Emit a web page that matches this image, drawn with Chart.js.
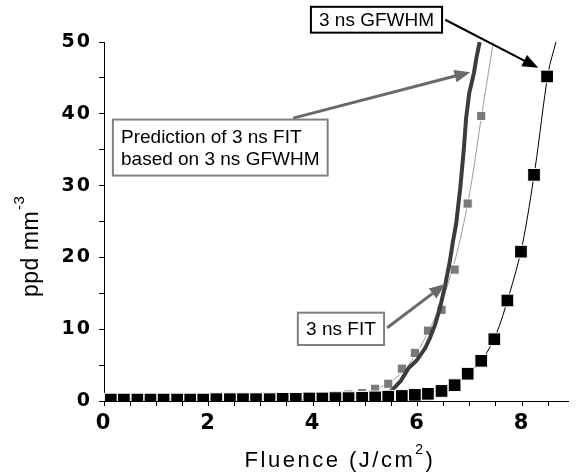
<!DOCTYPE html>
<html>
<head>
<meta charset="utf-8">
<script src="https://cdn.jsdelivr.net/npm/chart.js@4"></script>
<style>
  html, body { margin: 0; padding: 0; background: #fff; }
</style>
</head>
<body>
<canvas id="myChart" width="578" height="476"></canvas>
<script>
// fluence values shared by both measured series (J/cm2)
const fluence = [0.13, 0.38, 0.64, 0.89, 1.14, 1.40, 1.65, 1.90, 2.15, 2.41, 2.66, 2.91, 3.17, 3.42, 3.67, 3.93, 4.18,
    4.43, 4.68, 4.94, 5.19, 5.44, 5.70, 5.95, 6.20, 6.46, 6.71, 6.96, 7.22, 7.47, 7.72, 7.98, 8.23, 8.48];

// 3 ns GFWHM (black squares)
const gfwhm = [0.2, 0.2, 0.2, 0.2, 0.2, 0.2, 0.2, 0.2, 0.25, 0.25, 0.25, 0.25, 0.25, 0.3, 0.3, 0.35, 0.35,
    0.4, 0.4, 0.45, 0.5, 0.6, 0.7, 0.85, 1.0, 1.4, 2.2, 3.8, 5.6, 8.6, 14.0, 20.8, 31.5, 45.2];

// 3 ns FIT (grey squares)
const fit = [0.3, 0.3, 0.3, 0.3, 0.3, 0.3, 0.3, 0.3, 0.3, 0.3, 0.3, 0.3, 0.3, 0.4, 0.45, 0.5, 0.6,
    0.75, 0.9, 1.1, 1.7, 2.4, 4.5, 6.7, 9.8, 12.7, 18.3, 27.5, 39.7];

// thin fitted curves
const gfwhmCurveX = [0, 1, 2, 3, 4, 5, 5.5, 6, 6.5, 6.75, 7, 7.25, 7.5, 7.75, 8, 8.25, 8.5, 8.65];
const gfwhmCurveY = [0.2, 0.2, 0.25, 0.3, 0.35, 0.5, 0.7, 0.95, 1.6, 2.4, 4.0, 5.9, 9.2, 14.7, 21.5, 32.4, 45.7, 50];
const fitCurveX = [0, 1, 2, 3, 4, 4.5, 5, 5.25, 5.5, 5.75, 6, 6.25, 6.5, 6.75, 7, 7.2, 7.45];
const fitCurveY = [0.3, 0.3, 0.3, 0.35, 0.55, 0.8, 1.3, 1.8, 2.8, 4.3, 6.9, 10.3, 14.5, 20.5, 29.0, 38.5, 50];

// prediction of 3 ns FIT (thick dark line)
const predX = [0, 1, 2, 3, 4, 5, 5.3, 5.5, 5.68, 5.83, 5.98, 6.15, 6.24, 6.34, 6.43, 6.52, 6.62, 6.68, 6.74, 6.82,
    6.89, 6.93, 6.99, 7.08, 7.13, 7.19];
const predY = [0.2, 0.2, 0.2, 0.25, 0.35, 0.6, 0.9, 1.4, 2.8, 4.6, 5.6, 7.4, 8.8, 10.7, 13.0, 15.8, 19.5, 22.3, 24.7, 29.8,
    35.4, 39.4, 42.9, 45.7, 47.9, 50];

const xTicks = [0, 0.5, 1, 1.5, 2, 2.5, 3, 3.5, 4, 4.5, 5, 5.5, 6, 6.5, 7, 7.5, 8, 8.5];
const yTicks = [0, 5, 10, 15, 20, 25, 30, 35, 40, 45, 50];

const FONT = '"Liberation Sans", Arial, sans-serif';

function pairs(xs, ys) {
    return ys.map((y, i) => ({ x: xs[i], y: y }));
}

function drawArrow(ctx, x1, y1, x2, y2, color, width, head) {
    let ang = Math.atan2(y2 - y1, x2 - x1);
    ctx.strokeStyle = color;
    ctx.fillStyle = color;
    ctx.lineWidth = width;
    ctx.beginPath();
    ctx.moveTo(x1, y1);
    ctx.lineTo(x2 - Math.cos(ang) * head * 0.8, y2 - Math.sin(ang) * head * 0.8);
    ctx.stroke();
    ctx.beginPath();
    ctx.moveTo(x2, y2);
    ctx.lineTo(x2 - head * Math.cos(ang - 0.38), y2 - head * Math.sin(ang - 0.38));
    ctx.lineTo(x2 - head * Math.cos(ang + 0.38), y2 - head * Math.sin(ang + 0.38));
    ctx.closePath();
    ctx.fill();
}

// boxes and arrows, placed in data units
const notes = [
    { box: [3.96, 54.9, 6.47, 51.3], lines: ['3 ns GFWHM'], border: '#000', arrow: [6.53, 53.1, 8.31, 46.4], arrowColor: '#000', arrowWidth: 2 },
    { box: [0.17, 39.2, 4.28, 31.4], lines: ['Prediction of 3 ns FIT', 'based on 3 ns GFWHM'], border: '#808080', arrow: [3.62, 39.4, 7.01, 45.8], arrowColor: '#6a6a6a', arrowWidth: 3 },
    { box: [3.71, 12.3, 5.36, 7.8], lines: ['3 ns FIT'], border: '#808080', arrow: [5.42, 10.2, 6.53, 16.3], arrowColor: '#6a6a6a', arrowWidth: 3 }
];

const notesPlugin = {
    id: 'notes',
    afterDatasetsDraw(chart) {
        let ctx = chart.ctx;
        let xs = chart.scales.x;
        let ys = chart.scales.y;
        ctx.save();
        ctx.letterSpacing = '0px';
        notes.forEach((n) => {
            let a = n.arrow;
            drawArrow(ctx, xs.getPixelForValue(a[0]), ys.getPixelForValue(a[1]),
                xs.getPixelForValue(a[2]), ys.getPixelForValue(a[3]), n.arrowColor, n.arrowWidth, 17);
            let l = xs.getPixelForValue(n.box[0]);
            let t = ys.getPixelForValue(n.box[1]);
            let r = xs.getPixelForValue(n.box[2]);
            let b = ys.getPixelForValue(n.box[3]);
            ctx.fillStyle = '#fff';
            ctx.fillRect(l, t, r - l, b - t);
            ctx.strokeStyle = n.border;
            ctx.lineWidth = 2;
            ctx.strokeRect(l, t, r - l, b - t);
            ctx.fillStyle = '#000';
            ctx.font = '19px ' + FONT;
            ctx.textBaseline = 'middle';
            let lh = 22;
            let cy = (t + b) / 2 - (n.lines.length - 1) * lh / 2;
            // multi-line notes are left aligned, single ones centred
            let widest = Math.max(...n.lines.map((txt) => ctx.measureText(txt).width));
            let tx = (l + r) / 2 - widest / 2;
            ctx.textAlign = 'left';
            n.lines.forEach((txt, i) => {
                let w = ctx.measureText(txt).width;
                let x = n.lines.length > 1 ? tx : (l + r) / 2 - w / 2;
                ctx.fillText(txt, x, cy + i * lh + 1);
            });
        });
        ctx.restore();
    }
};

// axis titles with real superscripts
const titlesPlugin = {
    id: 'titles',
    afterDraw(chart) {
        let ctx = chart.ctx;
        let area = chart.chartArea;
        ctx.save();
        ctx.fillStyle = '#000';
        ctx.textAlign = 'left';
        ctx.textBaseline = 'alphabetic';

        // x title
        ctx.letterSpacing = '2.5px';
        ctx.font = '22px ' + FONT;
        let main = 'Fluence (J/cm';
        let w1 = ctx.measureText(main).width;
        ctx.font = '14px ' + FONT;
        let w2 = ctx.measureText('2').width;
        ctx.font = '22px ' + FONT;
        let w3 = ctx.measureText(')').width;
        let x0 = (area.left + area.right) / 2 - (w1 + w2 + w3) / 2 + 4;
        let base = 467;
        ctx.fillText(main, x0, base);
        ctx.font = '14px ' + FONT;
        ctx.fillText('2', x0 + w1, base - 13);
        ctx.font = '22px ' + FONT;
        ctx.fillText(')', x0 + w1 + w2, base);

        // y title
        ctx.letterSpacing = '0.5px';
        ctx.translate(38, 297);
        ctx.rotate(-Math.PI / 2);
        ctx.font = '23px ' + FONT;
        let yw = ctx.measureText('ppd mm').width;
        ctx.fillText('ppd mm', 0, 0);
        ctx.font = '15px ' + FONT;
        ctx.fillText('-3', yw + 1, -14);
        ctx.restore();
    }
};

const tickSpacing = {
    id: 'tickSpacing',
    beforeDraw(chart) {
        chart.ctx.letterSpacing = '2px';
    }
};

let chart = new Chart(document.getElementById('myChart'), {
    type: 'scatter',
    data: {
        datasets: [
            {
                data: pairs(fluence, gfwhm),
                pointStyle: 'rect',
                pointRadius: 9,
                pointBackgroundColor: '#000',
                pointBorderColor: '#fff',
                pointBorderWidth: 1,
                clip: 0
            },
            {
                data: pairs(predX, predY),
                showLine: true,
                borderColor: '#3c3c3c',
                borderWidth: 4,
                pointRadius: 0,
                clip: 0
            },
            {
                data: pairs(fluence, fit),
                pointStyle: 'rect',
                pointRadius: 6.5,
                pointBackgroundColor: '#7a7a7a',
                pointBorderColor: '#fff',
                pointBorderWidth: 1,
                clip: 0
            },
            {
                data: pairs(gfwhmCurveX, gfwhmCurveY),
                showLine: true,
                borderColor: '#000',
                borderWidth: 1,
                tension: 0.3,
                pointRadius: 0,
                clip: 0
            },
            {
                data: pairs(fitCurveX, fitCurveY),
                showLine: true,
                borderColor: '#9a9a9a',
                borderWidth: 1,
                tension: 0.3,
                pointRadius: 0,
                clip: 0
            }
        ]
    },
    options: {
        responsive: false,
        animation: false,
        layout: { padding: { top: 42, right: 0, bottom: 0, left: 0 } },
        plugins: {
            legend: { display: false },
            tooltip: { enabled: false }
        },
        scales: {
            x: {
                type: 'linear',
                min: 0,
                max: 8.88,
                afterFit: (scale) => { scale.height = 75; },
                afterBuildTicks: (scale) => { scale.ticks = xTicks.map((v) => ({ value: v })); },
                border: { display: true, color: '#000', width: 1 },
                grid: { drawOnChartArea: false, drawTicks: true, tickLength: 5, color: '#000' },
                ticks: {
                    autoSkip: false,
                    maxRotation: 0,
                    padding: 5,
                    color: '#000',
                    font: { family: '"DejaVu Sans", sans-serif', size: 21, weight: 'bold' },
                    callback: (v) => (v % 2 === 0 ? String(v) : '')
                }
            },
            y: {
                type: 'linear',
                min: 0,
                max: 50,
                afterFit: (scale) => { scale.width = 104; },
                afterBuildTicks: (scale) => { scale.ticks = yTicks.map((v) => ({ value: v })); },
                border: { display: true, color: '#000', width: 1 },
                grid: { drawOnChartArea: false, drawTicks: true, tickLength: 5, color: '#000' },
                ticks: {
                    autoSkip: false,
                    padding: 7,
                    color: '#000',
                    font: { family: '"DejaVu Sans", sans-serif', size: 19, weight: 'bold' },
                    callback: (v) => (v % 10 === 0 ? String(v) : '')
                }
            }
        }
    },
    plugins: [tickSpacing, notesPlugin, titlesPlugin]
});
</script>
</body>
</html>
